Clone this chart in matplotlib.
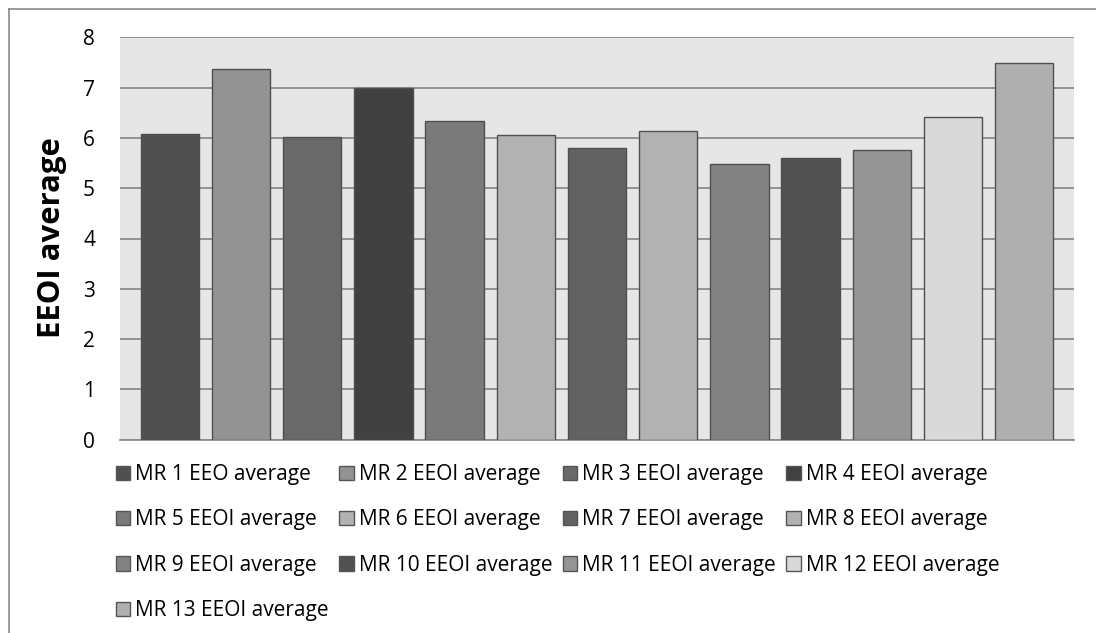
import matplotlib
matplotlib.use("Agg")
import matplotlib.pyplot as plt
from matplotlib.patches import Patch
from matplotlib.lines import Line2D

# Series names and their average EEOI values
labels = [
    "MR 1 EEO average", "MR 2 EEOI average", "MR 3 EEOI average", "MR 4 EEOI average",
    "MR 5 EEOI average", "MR 6 EEOI average", "MR 7 EEOI average", "MR 8 EEOI average",
    "MR 9 EEOI average", "MR 10 EEOI average", "MR 11 EEOI average", "MR 12 EEOI average",
    "MR 13 EEOI average",
]
values = [6.08, 7.36, 6.01, 6.99, 6.34, 6.06, 5.79, 6.14, 5.48, 5.60, 5.76, 6.42, 7.49]
fills = ["#505050", "#939393", "#696969", "#414141", "#7a7a7a", "#b2b2b2", "#626262",
         "#b2b2b2", "#828282", "#515151", "#959595", "#d9d9d9", "#afafaf"]
y_ticks = [0, 1, 2, 3, 4, 5, 6, 7, 8]
y_label = "EEOI average"

plt.rcParams["font.family"] = ["Open Sans", "DejaVu Sans"]

W, H = 1096, 633
fig = plt.figure(figsize=(W / 100, H / 100), dpi=100)
fig.patch.set_facecolor("white")

# plot area in pixel coordinates
px_left, px_right, px_top, px_bottom = 120, 1074, 37.3, 439.7
ax = fig.add_axes([px_left / W, 1 - px_bottom / H,
                   (px_right - px_left) / W, (px_bottom - px_top) / H])
ax.set_facecolor("#e6e6e6")

xs = list(range(len(values)))
bars = ax.bar(xs, values, width=0.82, color=fills, edgecolor="#4f4f4f",
              linewidth=1.0, zorder=3)

ax.set_xlim(-0.70, len(values) - 1 + 0.70)
ax.set_ylim(0, 8)
ax.set_yticks(y_ticks)
ax.set_yticklabels([str(t) for t in y_ticks], fontsize=15, color="black")
ax.set_xticks([])
ax.tick_params(axis="y", length=0, pad=18)
ax.yaxis.grid(True, color="#8c8c8c", linewidth=1.3, zorder=1)
ax.set_axisbelow(True)
for side in ("left", "right", "top"):
    ax.spines[side].set_visible(False)
ax.spines["bottom"].set_color("#8c8c8c")
ax.spines["bottom"].set_linewidth(1.3)

fig.text(52 / W, 1 - 237.5 / H, y_label, rotation=90, ha="center", va="center",
         fontsize=22.4, fontweight="bold", color="black")

# outer chart frame (left and top edges)
fig.add_artist(Line2D([9 / W, 9 / W], [0, 1 - 9 / H], transform=fig.transFigure,
                      color="#8a8a8a", linewidth=1.2))
fig.add_artist(Line2D([9 / W, 1], [1 - 9 / H, 1 - 9 / H], transform=fig.transFigure,
                      color="#8a8a8a", linewidth=1.2))

# legend in row-major order over four columns
handles = [Patch(facecolor=c, edgecolor="#555555", linewidth=1.0) for c in fills]
ncol = 4
nrows = -(-len(labels) // ncol)
order = []
for c in range(ncol):
    for r in range(nrows):
        i = r * ncol + c
        if i < len(labels):
            order.append(i)
leg = fig.legend([handles[i] for i in order], [labels[i] for i in order],
                 ncol=ncol, loc="upper left", bbox_to_anchor=(116 / W, 1 - 464 / H),
                 frameon=False, fontsize=15, handlelength=0.68, handleheight=0.68,
                 handletextpad=0.25, columnspacing=0.5, labelspacing=1.17,
                 borderaxespad=0, borderpad=0)

fig.savefig("out.png", dpi=100, facecolor="white")
